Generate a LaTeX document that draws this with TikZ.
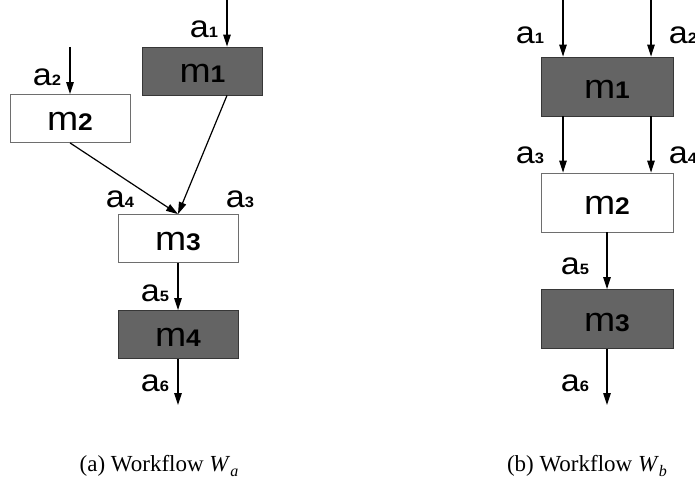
\documentclass[tikz,border=0pt]{standalone}
\usepackage{fontspec}
\setmainfont{Liberation Sans}
\newfontfamily\arialf[FakeStretch=1.1]{Liberation Sans}
\newfontfamily\capfont{Liberation Serif}
\usetikzlibrary{arrows.meta}
\definecolor{darkfill}{RGB}{100,100,100}
\definecolor{darkline}{RGB}{55,55,55}
\definecolor{lightline}{RGB}{110,110,110}
\newcommand{\albl}[1]{\arialf\fontsize{31}{31}\selectfont a{\fontsize{15}{15}\selectfont\bfseries #1}}
\newcommand{\mlbl}[1]{\arialf\fontsize{34}{34}\selectfont m{\fontsize{24}{24}\selectfont\bfseries #1}}
\newcommand{\capt}[2]{\capfont\fontsize{23}{23}\selectfont (#1) Workflow \textit{W}\raisebox{-0.22em}{\fontsize{16}{16}\selectfont\itshape #2}}
\begin{document}
\begin{tikzpicture}[x=1pt,y=-1pt,
  darkbox/.style={draw=darkline,fill=darkfill,line width=0.8pt,minimum width=120pt,minimum height=48pt,inner sep=0pt,text height=24pt,text depth=0pt},
  whitebox/.style={draw=lightline,fill=white,line width=0.8pt,minimum width=120pt,minimum height=48pt,inner sep=0pt,text height=24pt,text depth=0pt},
  bigdark/.style={darkbox,minimum width=132pt,minimum height=59pt},
  bigwhite/.style={whitebox,minimum width=132pt,minimum height=59pt},
  flow/.style={-{Triangle[length=12pt,width=7.5pt]},line width=1.2pt,black},
  lbl/.style={inner sep=0pt}]
\useasboundingbox (0,0) rectangle (695,481);
% ---------- (a) ----------
\node[darkbox] (m1a) at (202.5,71) {\mlbl{1}};
\node[whitebox] (m2a) at (70,118.5) {\mlbl{2}};
\node[whitebox] (m3a) at (178,238.5) {\mlbl{3}};
\node[darkbox] (m4a) at (178,334.5) {\mlbl{4}};
\coordinate (in1a) at (227,0);
\coordinate (in2a) at (70,47);
\coordinate (out6a) at (178,405);
\draw[flow] (in1a) -- (in1a |- m1a.north);
\draw[flow] (in2a) -- (m2a.north);
\draw[flow] (m2a.south) -- (m3a.north);
\draw[flow] (in1a |- m1a.south) -- (m3a.north);
\draw[flow] (m3a.south) -- (m4a.north);
\draw[flow] (m4a.south) -- (out6a);
\node[lbl] (a1a) at (204,29) {\albl{1}};
\node[lbl] (a2a) at (47,77) {\albl{2}};
\node[lbl] (a4a) at (120,199) {\albl{4}};
\node[lbl] (a3a) at (240,199) {\albl{3}};
\node[lbl] (a5a) at (155,293) {\albl{5}};
\node[lbl] (a6a) at (155,383) {\albl{6}};
\node[inner sep=0pt,anchor=base] (capa) at (159,471) {\capt{a}{a}};
% ---------- (b) ----------
\node[bigdark] (m1b) at (607,86.5) {\mlbl{1}};
\node[bigwhite] (m2b) at (607,202.5) {\mlbl{2}};
\node[bigdark] (m3b) at (607,319) {\mlbl{3}};
\coordinate (in1b) at (563,0);
\coordinate (in2b) at (651,0);
\coordinate (out6b) at (607,405);
\draw[flow] (in1b) -- (in1b |- m1b.north);
\draw[flow] (in2b) -- (in2b |- m1b.north);
\draw[flow] (in1b |- m1b.south) -- (in1b |- m2b.north);
\draw[flow] (in2b |- m1b.south) -- (in2b |- m2b.north);
\draw[flow] (m2b.south) -- (m3b.north);
\draw[flow] (m3b.south) -- (out6b);
\node[lbl] (a1b) at (530,35) {\albl{1}};
\node[lbl] (a2b) at (683,35) {\albl{2}};
\node[lbl] (a3b) at (530,155) {\albl{3}};
\node[lbl] (a4b) at (683,155) {\albl{4}};
\node[lbl] (a5b) at (575,266) {\albl{5}};
\node[lbl] (a6b) at (575,383) {\albl{6}};
\node[inner sep=0pt,anchor=base] (capb) at (587,471) {\capt{b}{b}};
\end{tikzpicture}
\end{document}
